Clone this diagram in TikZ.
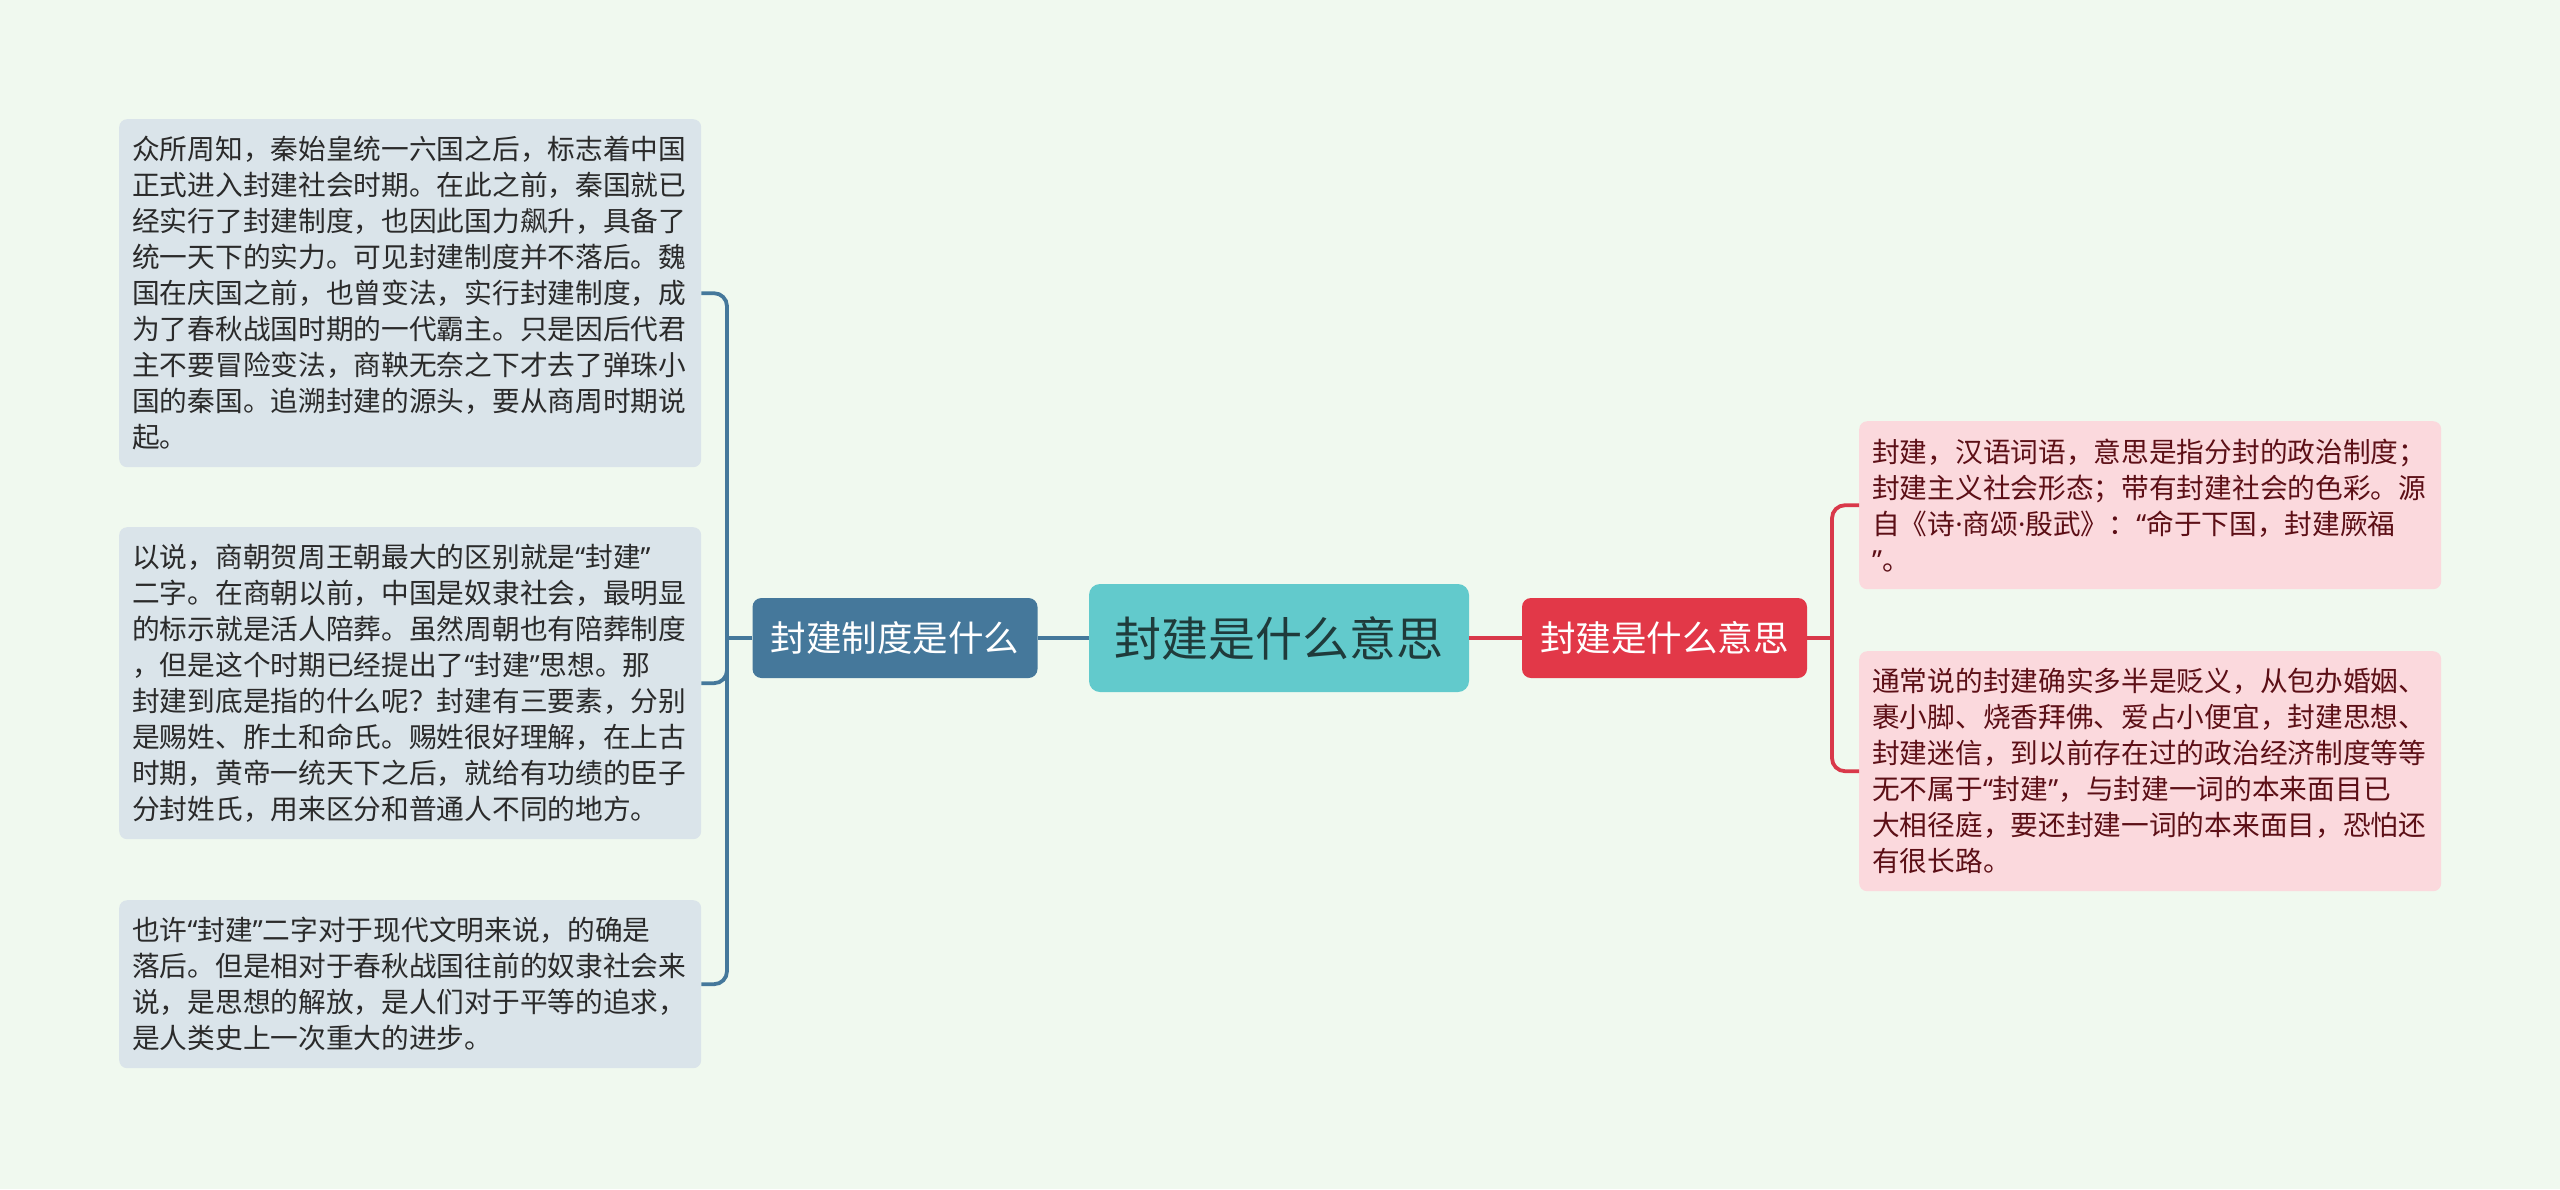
\documentclass[tikz,border=0pt]{standalone}
\usepackage{fontspec}
\setmainfont{Noto Sans CJK SC}
\newfontfamily\latf{Noto Sans}
\newcommand\qopen{{\latf “}}
\newcommand\qclose{{\latf ”}}
\newcommand\mdot{{\latf ·}}
\definecolor{bgc}{HTML}{F0F9EF}
\definecolor{leafL}{HTML}{DAE4EA}
\definecolor{leafR}{HTML}{FBD9DD}
\definecolor{branchL}{HTML}{45789B}
\definecolor{branchR}{HTML}{E23848}
\definecolor{rootc}{HTML}{62CACC}
\definecolor{lineL}{HTML}{45789B}
\definecolor{lineR}{HTML}{D9394A}
\definecolor{txtL}{HTML}{2A2A2A}
\definecolor{txtR}{HTML}{5C0F16}
\definecolor{txtroot}{HTML}{1F3B3B}
\tikzset{
  leafbox/.style={rounded corners=8pt, text width=556pt, inner xsep=13pt, inner ysep=0pt,
    align=left, font=\fontsize{27.7}{36}\selectfont, anchor=north west},
  leftleaf/.style={leafbox, fill=leafL, text=txtL},
  rightleaf/.style={leafbox, fill=leafR, text=txtR},
  branchbox/.style={rounded corners=9pt, minimum width=285pt, minimum height=80pt, inner sep=0pt,
    font=\fontsize{35.5}{40}\selectfont, text=white},
  rootbox/.style={rounded corners=11pt, fill=rootc, minimum width=380pt, minimum height=108pt,
    inner sep=0pt, font=\fontsize{47}{52}\selectfont, text=txtroot},
  connL/.style={draw=lineL, line width=3.8pt, rounded corners=13pt},
  connR/.style={draw=lineR, line width=3.8pt, rounded corners=13pt},
}
\begin{document}
\begin{tikzpicture}[x=1pt,y=-1pt]
\fill[bgc] (0,0) rectangle (2560,1189);
\useasboundingbox (0,0) rectangle (2560,1189);

\node[rootbox] (root) at (1279,638) {封建是什么意思};
\node[branchbox, fill=branchL] (lb) at (895,638) {封建制度是什么};
\node[branchbox, fill=branchR] (rb) at (1664.5,638) {封建是什么意思};

\node[leftleaf, minimum height=348pt] (l1) at (119,119) {众所周知，秦始皇统一六国之后，标志着中国\\正式进入封建社会时期。在此之前，秦国就已\\经实行了封建制度，也因此国力飙升，具备了\\统一天下的实力。可见封建制度并不落后。魏\\国在庆国之前，也曾变法，实行封建制度，成\\为了春秋战国时期的一代霸主。只是因后代君\\主不要冒险变法，商鞅无奈之下才去了弹珠小\\国的秦国。追溯封建的源头，要从商周时期说\\起。};
\node[leftleaf, minimum height=312pt] (l2) at (119,527) {以说，商朝贺周王朝最大的区别就是\qopen 封建\qclose\\二字。在商朝以前，中国是奴隶社会，最明显\\的标示就是活人陪葬。虽然周朝也有陪葬制度\\，但是这个时期已经提出了\qopen 封建\qclose 思想。那\\封建到底是指的什么呢？封建有三要素，分别\\是赐姓、胙土和命氏。赐姓很好理解，在上古\\时期，黄帝一统天下之后，就给有功绩的臣子\\分封姓氏，用来区分和普通人不同的地方。};
\node[leftleaf, minimum height=168pt] (l3) at (119,900) {也许\qopen 封建\qclose 二字对于现代文明来说，的确是\\落后。但是相对于春秋战国往前的奴隶社会来\\说，是思想的解放，是人们对于平等的追求，\\是人类史上一次重大的进步。};

\node[rightleaf, minimum height=168pt] (r1) at (1859,421) {封建，汉语词语，意思是指分封的政治制度；\\封建主义社会形态；带有封建社会的色彩。源\\自《诗\mdot 商颂\mdot 殷武》：\qopen 命于下国，封建厥福\\\qclose。};
\node[rightleaf, minimum height=240pt] (r2) at (1859,651) {通常说的封建确实多半是贬义，从包办婚姻、\\裹小脚、烧香拜佛、爱占小便宜，封建思想、\\封建迷信，到以前存在过的政治经济制度等等\\无不属于\qopen 封建\qclose，与封建一词的本来面目已\\大相径庭，要还封建一词的本来面目，恐怕还\\有很长路。};

\coordinate (lt) at (727,638);
\coordinate (rt) at (1832,638);

\draw[connL] (root.west) -- (lb.east);
\draw[connR] (root.east) -- (rb.west);
\draw[connL] (lb.west) -- (lt);
\draw[connL] (lt) |- (l1.east);
\draw[connL] (lt) |- (l2.east);
\draw[connL] (lt) |- (l3.east);
\draw[connR] (rb.east) -- (rt);
\draw[connR] (rt) |- (r1.west);
\draw[connR] (rt) |- (r2.west);
\end{tikzpicture}
\end{document}
